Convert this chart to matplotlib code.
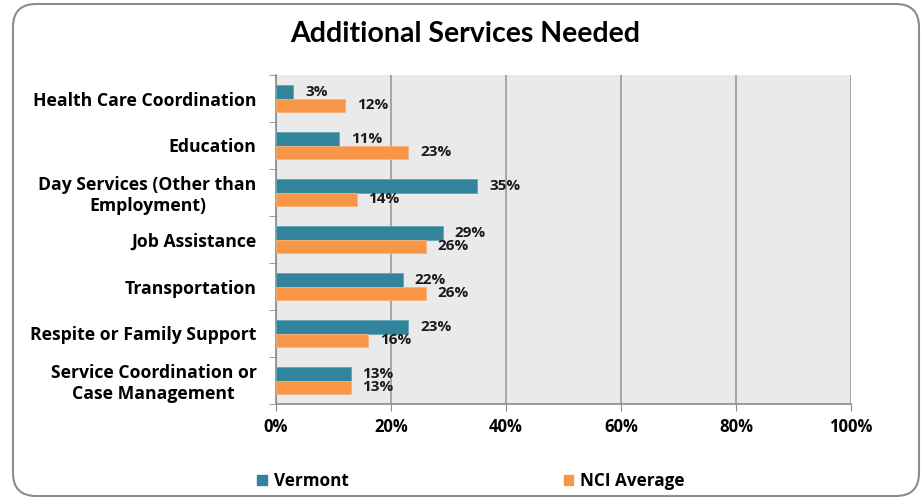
import matplotlib.pyplot as plt
from matplotlib.patches import FancyBboxPatch, Patch
from matplotlib.ticker import FixedLocator
import numpy as np

plt.rcParams['font.family'] = ['Open Sans', 'DejaVu Sans']

categories = ['Health Care Coordination', 'Education', 'Day Services (Other than\nEmployment)',
              'Job Assistance', 'Transportation', 'Respite or Family Support',
              'Service Coordination or\nCase Management']
vermont = [3, 11, 35, 29, 22, 23, 13]
nci_avg = [12, 23, 14, 26, 26, 16, 13]
xticks = [0, 20, 40, 60, 80, 100]

teal = '#31849B'
orange = '#F79646'

fig = plt.figure(figsize=(9.24, 5), dpi=100)
# rounded outer frame, kept behind the axes
frame = FancyBboxPatch((13 / 924, 4 / 500), 906 / 924, 492 / 500,
                       boxstyle='round,pad=0,rounding_size=0.025',
                       transform=fig.transFigure, fc='white', ec='#8c8c8c', lw=1.5,
                       mutation_aspect=924 / 500, zorder=-5)
fig.patches.append(frame)

ax = fig.add_axes([276 / 924, 1 - 404 / 500, 575 / 924, 329 / 500])
ax.set_zorder(2)
ax.set_facecolor('#EAEAEA')

y = np.arange(len(categories))
h = 0.277
b1 = ax.barh(y - h / 2, vermont, h, color=teal, edgecolor='#5fa5b8', lw=0.6, zorder=3)
b2 = ax.barh(y + h / 2, nci_avg, h, color=orange, edgecolor='#f9b27c', lw=0.6, zorder=3)
for bars, vals in ((b1, vermont), (b2, nci_avg)):
    ax.bar_label(bars, labels=[f'{v}%' for v in vals], padding=8.5,
                 fontsize=11, fontweight='bold', color='#1a1a1a')

ax.set_xlim(0, 100)
ax.set_ylim(len(categories) - 0.5, -0.5)
ax.set_xticks(xticks)
ax.set_xticklabels([f'{t}%' for t in xticks], fontsize=12, fontweight='bold')
ax.set_yticks(y)
ax.set_yticklabels(categories, fontsize=12.7, fontweight='bold', multialignment='center',
                   linespacing=1.2)
ax.tick_params(axis='y', length=0, pad=14)
ax.yaxis.set_minor_locator(FixedLocator(np.arange(-0.5, len(categories), 1)))
ax.tick_params(axis='y', which='minor', length=5, color='#8c8c8c', direction='out')
ax.tick_params(axis='x', length=5, color='#8c8c8c', direction='out', pad=5)
ax.grid(axis='x', color='#a6a6a6', lw=1.4, zorder=0)
for s in ['top', 'right']:
    ax.spines[s].set_visible(False)
for s in ['left', 'bottom']:
    ax.spines[s].set_color('#8c8c8c')
    ax.spines[s].set_linewidth(1.2)

fig.text(465 / 924, 1 - 34 / 500, 'Additional Services Needed', ha='center', va='center',
         fontsize=20.5, fontweight='bold', family=['Lato', 'DejaVu Sans'])

handles = [Patch(color=teal, label='Vermont'), Patch(color=orange, label='NCI Average')]
fig.legend(handles=handles, loc='center left', bbox_to_anchor=(242 / 924, 19 / 500), ncol=2,
           frameon=False, handlelength=0.55, handleheight=0.55, handletextpad=0.4,
           columnspacing=12.6, prop={'weight': 'bold', 'size': 12.3})

fig.savefig('out.png', dpi=100)
